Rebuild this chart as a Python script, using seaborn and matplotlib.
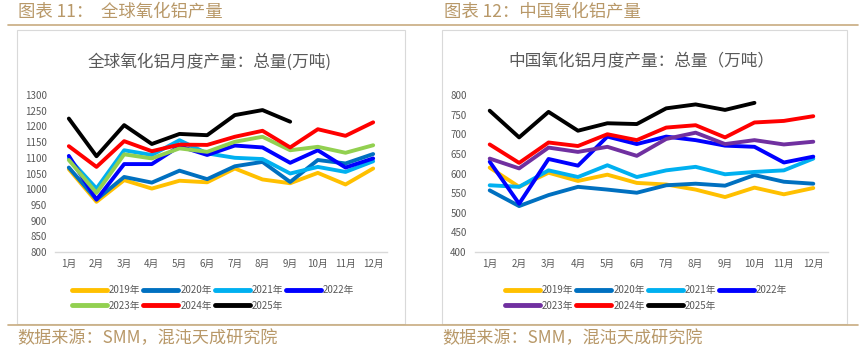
import matplotlib
matplotlib.use("Agg")
import matplotlib.pyplot as plt
import seaborn as sns
import pandas as pd
from matplotlib.lines import Line2D
from matplotlib.patches import Rectangle

sns.set_theme(style="white")
plt.rcParams['font.family'] = ['Noto Sans CJK SC', 'DejaVu Sans']

months = ["1月", "2月", "3月", "4月", "5月", "6月", "7月", "8月", "9月", "10月", "11月", "12月"]
years = ["2019年", "2020年", "2021年", "2022年", "2023年", "2024年", "2025年"]

# Global alumina monthly output (10k t)
g2019 = [1064, 960, 1029, 1002, 1027, 1022, 1066, 1031, 1019, 1052, 1015, 1066]
g2020 = [1069, 967, 1039, 1021, 1059, 1032, 1073, 1087, 1023, 1093, 1082, 1112]
g2021 = [1098, 1002, 1124, 1109, 1156, 1114, 1100, 1096, 1050, 1071, 1055, 1089]
g2022 = [1106, 967, 1080, 1080, 1137, 1109, 1139, 1133, 1084, 1124, 1069, 1098]
g2023 = [1093, 988, 1111, 1098, 1130, 1119, 1151, 1167, 1124, 1135, 1116, 1140]
g2024 = [1137, 1071, 1153, 1121, 1142, 1141, 1167, 1186, 1133, 1191, 1170, 1213]
g2025 = [1225, 1105, 1204, 1144, 1176, 1172, 1236, 1252, 1215]

# China alumina monthly output (10k t)
c2019 = [615, 566, 602, 581, 597, 576, 572, 559, 540, 564, 547, 563]
c2020 = [557, 517, 545, 566, 559, 551, 570, 574, 569, 596, 579, 574]
c2021 = [570, 566, 608, 591, 621, 591, 608, 617, 598, 604, 608, 638]
c2022 = [630, 523, 637, 620, 694, 675, 694, 685, 671, 668, 628, 643]
c2023 = [638, 613, 666, 655, 668, 645, 688, 704, 675, 685, 674, 681]
c2024 = [674, 627, 679, 670, 700, 685, 717, 723, 692, 730, 734, 746]
c2025 = [760, 692, 757, 709, 728, 726, 766, 776, 762, 780]

global_series = [g2019, g2020, g2021, g2022, g2023, g2024, g2025]
china_series = [c2019, c2020, c2021, c2022, c2023, c2024, c2025]

pal_global = {"2019年": "#FFC000", "2020年": "#0070C0", "2021年": "#00B0F0", "2022年": "#0000FF",
              "2023年": "#92D050", "2024年": "#FF0000", "2025年": "#000000"}
pal_china = dict(pal_global)
pal_china["2023年"] = "#7030A0"

def long_df(series):
    rows = []
    for y, vals in zip(years, series):
        for i, v in enumerate(vals):
            rows.append({"idx": i, "月份": months[i], "年份": y, "产量": v})
    return pd.DataFrame(rows)

W, H = 864, 349
fig = plt.figure(figsize=(W / 100, H / 100), dpi=100)

gold = "#B89868"
gold_line = "#C8AC80"
gray = "#595959"

def fx(px):
    return px / W

def fy(py):
    return 1 - py / H

# boxes
for x0, x1 in [(17, 405), (442, 847)]:
    fig.patches.append(Rectangle((fx(x0), fy(324)), fx(x1) - fx(x0), fy(30) - fy(324),
                                 transform=fig.transFigure, fill=False, edgecolor="#D9D9D9", lw=0.8))
# header/footer lines
for yy in [25, 325]:
    fig.lines.append(Line2D([fx(8), fx(858)], [fy(yy), fy(yy)], transform=fig.transFigure,
                            color=gold_line, lw=1.2))

fig.text(fx(18), fy(12), "图表 11：  全球氧化铝产量", color=gold, fontsize=12.5, va="center", ha="left")
fig.text(fx(444), fy(12), "图表 12：中国氧化铝产量", color=gold, fontsize=12.5, va="center", ha="left")
fig.text(fx(17), fy(338), "数据来源：SMM，混沌天成研究院", color=gold, fontsize=12.3, va="center", ha="left")
fig.text(fx(442), fy(338), "数据来源：SMM，混沌天成研究院", color=gold, fontsize=12.3, va="center", ha="left")

panels = [
    dict(rect=[fx(55), fy(252), fx(387) - fx(55), fy(95) - fy(252)], data=global_series, pal=pal_global,
         ylim=(800, 1300), step=50, title="全球氧化铝月度产量：总量(万吨)", tx=210, lx=72),
    dict(rect=[fx(475), fy(252), fx(828) - fx(475), fy(95) - fy(252)], data=china_series, pal=pal_china,
         ylim=(400, 800), step=50, title="中国氧化铝月度产量：总量（万吨）", tx=641, lx=505),
]

order = [0, 4, 1, 5, 2, 6, 3]

for p in panels:
    ax = fig.add_axes(p["rect"])
    df = long_df(p["data"])
    sns.lineplot(data=df, x="idx", y="产量", hue="年份", palette=p["pal"], hue_order=years,
                 lw=2.8, sort=False, ax=ax, legend=False)
    ax.set_xlim(-0.5, 11.5)
    ax.set_ylim(*p["ylim"])
    ax.set_yticks(range(p["ylim"][0], p["ylim"][1] + 1, p["step"]))
    ax.set_xticks(range(12))
    ax.set_xticklabels(months)
    ax.set_xlabel("")
    ax.set_ylabel("")
    ax.tick_params(axis="both", length=0, labelsize=7, colors=gray)
    ax.tick_params(axis="x", pad=5)
    ax.tick_params(axis="y", pad=6)
    for s in ["top", "right", "left"]:
        ax.spines[s].set_visible(False)
    ax.spines["bottom"].set_color("#D9D9D9")
    ax.spines["bottom"].set_linewidth(1)
    ax.set_facecolor("none")
    ax.grid(False)
    fig.text(fx(p["tx"]), fy(62), p["title"], color=gray, fontsize=12, ha="center", va="center")
    handles = [Line2D([], [], color=p["pal"][y], lw=3.5, solid_capstyle="round") for y in years]
    hs = [handles[i] for i in order]
    ls = [years[i] for i in order]
    fig.legend(hs, ls, loc="upper left", bbox_to_anchor=(fx(p["lx"]), fy(285)),
               ncol=4, frameon=False, fontsize=7, labelcolor=gray, borderpad=0, borderaxespad=0,
               handlelength=3.6, handletextpad=0.2, columnspacing=0.3, labelspacing=0.6)

fig.savefig("out.png", dpi=100, facecolor="white")
